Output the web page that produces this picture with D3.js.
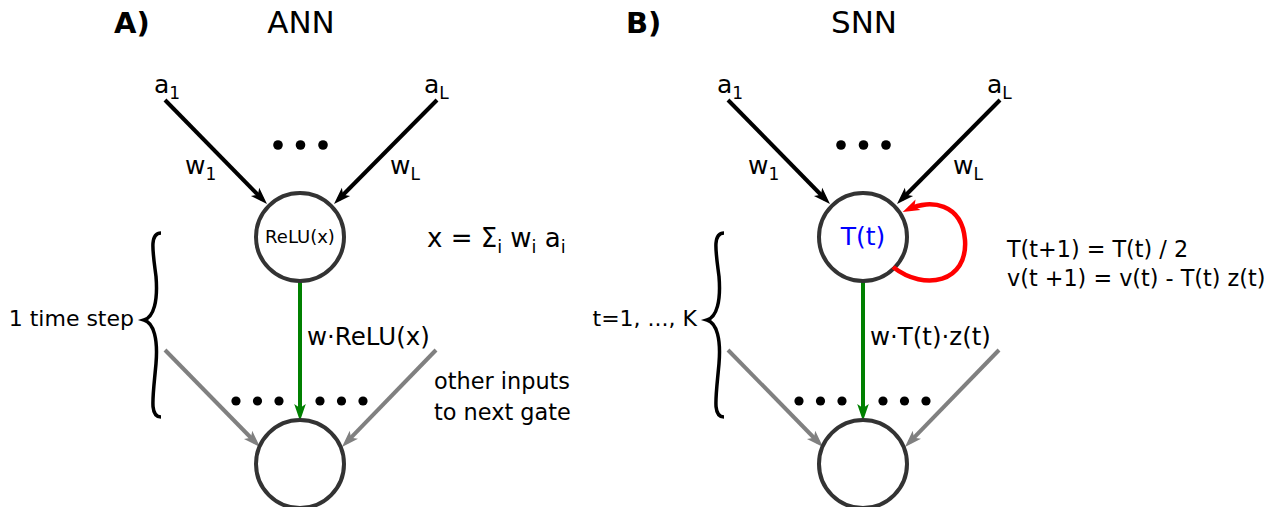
<!DOCTYPE html>
<html>
<head>
<meta charset="utf-8">
<script src="https://cdn.jsdelivr.net/npm/d3@7"></script>
<style>
  html, body { margin: 0; padding: 0; background: #fff; }
  svg { display: block; font-family: "DejaVu Sans", sans-serif; }
</style>
</head>
<body>
<svg id="fig" width="1281" height="507"></svg>
<script>
// diagram content
const panelTags = ["A)", "B)"];
const panelTitles = ["ANN", "SNN"];
const inputLabels = [[["a", 0], ["1", 1]], [["a", 0], ["L", 1]]];
const weightLabels = [[["w", 0], ["1", 1]], [["w", 0], ["L", 1]]];
const nodeLabels = ["ReLU(x)", "T(t)"];
const nodeLabelColors = ["#000", "#0000ff"];
const outputLabels = ["w·ReLU(x)", "w·T(t)·z(t)"];
const spanLabels = ["1 time step", "t=1, ..., K"];
const noteA = [[["x = Σ", 0], ["i", 1], [" w", 0], ["i", 1], [" a", 0], ["i", 1]]];
const noteB = [[["T(t+1) = T(t) / 2", 0]], [["v(t +1) = v(t) - T(t) z(t)", 0]]];
const otherInputs = ["other inputs", "to next gate"];
const dotCount = [3, 6];

(function() {
  const svg = d3.select("#fig");
  const cx = d3.scalePoint().domain(panelTitles).range([300, 863]);
  const tagX = d3.scalePoint().domain(panelTags).range([114, 626]);
  const topY = 237, botY = 464, r = 44;

  const defs = svg.append("defs");
  [["black", "#000"], ["gray", "#808080"], ["green", "#008000"], ["red", "#ff0000"]].forEach(([id, c]) => {
    defs.append("marker")
      .attr("id", "arr-" + id)
      .attr("viewBox", "-12 -8 20 16")
      .attr("refX", 0).attr("refY", 0)
      .attr("markerWidth", 20).attr("markerHeight", 16)
      .attr("markerUnits", "userSpaceOnUse")
      .attr("orient", "auto")
      .append("path")
      .attr("d", "M7,0 L-10,-5.8 L-6,0 L-10,5.8 Z")
      .attr("fill", c);
  });

  // line stops short of the tip so the head covers its end
  function arrow(x1, y1, x2, y2, color, id) {
    const dx = x2 - x1, dy = y2 - y1, len = Math.hypot(dx, dy);
    const ex = x2 - dx / len * 7, ey = y2 - dy / len * 7;
    svg.append("line")
      .attr("x1", x1).attr("y1", y1).attr("x2", ex).attr("y2", ey)
      .attr("stroke", color).attr("stroke-width", 4)
      .attr("marker-end", `url(#arr-${id})`);
  }

  function subText(x, y, parts, size, anchor) {
    const t = svg.append("text").attr("x", x).attr("y", y)
      .attr("font-size", size).attr("text-anchor", anchor || "start");
    parts.forEach(([s, sub], i) => {
      const prevSub = i > 0 && parts[i - 1][1];
      const ts = t.append("tspan").text(s);
      if (sub) ts.attr("font-size", size * 0.68).attr("dy", prevSub ? 0 : 6);
      else if (prevSub) ts.attr("dy", -6);
    });
    return t;
  }

  // curly brace opening to the left
  function brace(xE, xS, xT, y0, ym, y1) {
    const h = (ym - y0) / 2;
    const p = `M${xE},${y0} C${xE - 12},${y0} ${xS - 3},${y0 + h * 0.45} ${xS},${y0 + h}` +
      ` C${xS + 2},${ym - h * 0.45} ${xS - 2},${ym - 3} ${xT},${ym}` +
      ` C${xS - 2},${ym + 3} ${xS + 2},${ym + h * 0.45} ${xS},${ym + h}` +
      ` C${xS - 3},${y1 - h * 0.45} ${xE - 12},${y1} ${xE},${y1}`;
    svg.append("path").attr("d", p).attr("fill", "none")
      .attr("stroke", "#000").attr("stroke-width", 3.5);
  }

  panelTitles.forEach((title, i) => {
    const c = cx(title);

    // headings
    svg.append("text").attr("x", tagX(panelTags[i])).attr("y", 33)
      .attr("font-size", 29).attr("font-weight", "bold").text(panelTags[i]);
    svg.append("text").attr("x", c + 1).attr("y", 33)
      .attr("font-size", 31).attr("text-anchor", "middle").text(title);

    // inputs
    subText(c - 146, 93, inputLabels[0], 25);
    subText(c + 124, 93, inputLabels[1], 25);
    arrow(c - 135, 100, c - 33, 204, "#000", "black");
    arrow(c + 137, 100, c + 34, 204, "#000", "black");
    subText(c - 115, 174, weightLabels[0], 25);
    subText(c + 90, 174, weightLabels[1], 25);

    svg.selectAll(null).data(d3.range(dotCount[0])).enter().append("circle")
      .attr("cx", d => c - 22 + d * 22.5).attr("cy", 145).attr("r", 4.8).attr("fill", "#000");

    // lower dots
    const lower = d3.range(dotCount[1]);
    svg.selectAll(null).data(lower).enter().append("circle")
      .attr("cx", d => d < 3 ? c - 64 + d * 21.5 : c + 20 + (d - 3) * 21.5)
      .attr("cy", 401).attr("r", 4.6).attr("fill", "#000");

    // other inputs (gray)
    arrow(c - 135, 350, c - 40, 447, "#808080", "gray");
    arrow(c + 136, 350, c + 42, 447, "#808080", "gray");

    // output (green)
    arrow(c, topY + r, c, 421, "#008000", "green");

    // nodes
    [topY, botY].forEach(y => {
      svg.append("circle").attr("cx", c).attr("cy", y).attr("r", r)
        .attr("fill", "none").attr("stroke", "#333").attr("stroke-width", 4);
    });

    svg.append("text").attr("x", c).attr("y", i === 0 ? 243 : 245)
      .attr("font-size", i === 0 ? 18 : 25).attr("text-anchor", "middle")
      .attr("fill", nodeLabelColors[i]).text(nodeLabels[i]);

    svg.append("text").attr("x", c + 7).attr("y", 345)
      .attr("font-size", 24.5).text(outputLabels[i]);

    // time span brace
    brace(c - 139, c - 144, c - 156, 233, 320, 417);
    svg.append("text").attr("x", c - 166).attr("y", 326)
      .attr("font-size", 22).attr("text-anchor", "end").text(spanLabels[i]);
  });

  // panel A notes
  noteA.forEach((line, k) => subText(427, 247 + k * 29, line, 26));
  otherInputs.forEach((s, k) => {
    svg.append("text").attr("x", 434).attr("y", 389 + k * 31)
      .attr("font-size", 22.4).text(s);
  });

  // panel B: recurrent threshold loop and equations
  svg.append("path")
    .attr("d", "M893,267 C925,292 968,282 965,240 C962,203 930,199 909,209")
    .attr("fill", "none").attr("stroke", "#ff0000").attr("stroke-width", 4.5)
    .attr("marker-end", "url(#arr-red)");
  noteB.forEach((line, k) => subText(1007, 257 + k * 28.5, line, 22.3));
})();
</script>
</body>
</html>
